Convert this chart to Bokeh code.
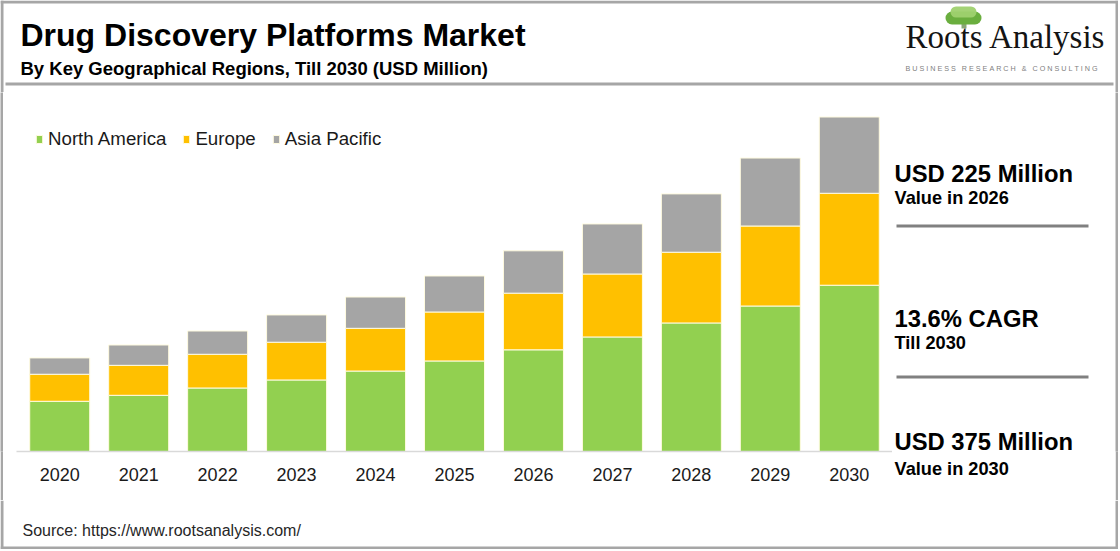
from bokeh.plotting import figure
from bokeh.models import Label, BoxAnnotation, ColumnDataSource, Range1d, FactorRange, Spacer, Title
from bokeh.layouts import column, row
from bokeh.embed import file_html
from bokeh.resources import INLINE

# ---- data (USD Million) ----
years = ["2020", "2021", "2022", "2023", "2024", "2025", "2026", "2027", "2028", "2029", "2030"]
north_america = [56.3, 63.0, 71.2, 80.2, 90.2, 101.5, 114.0, 128.4, 144.1, 163.1, 186.4]
europe = [30.3, 33.6, 37.8, 42.3, 47.9, 54.9, 63.5, 70.6, 79.3, 89.7, 103.1]
asia_pacific = [18.3, 22.8, 26.1, 30.6, 35.1, 40.4, 47.5, 56.1, 65.4, 76.2, 85.5]
series_names = ["North America", "Europe", "Asia Pacific"]
series_colors = ["#92d050", "#ffc000", "#a5a5a5"]

title_text = "Drug Discovery Platforms Market"
subtitle_text = "By Key Geographical Regions, Till 2030 (USD Million)"
source_text = "Source: https://www.rootsanalysis.com/"
cagr_text = "13.6% CAGR"
tagline_words = ["BUSINESS", "RESEARCH", "&", "CONSULTING"]

FONT = "Liberation Sans"
W, H = 1118, 549
HEAD_H = 92
MID_B = 500
MID_H = MID_B - HEAD_H
FRAME_H = 359
BOT_BORDER = MID_H - FRAME_H
LSTRIP, LSPACE = 3, 13
MAIN_W = 876
RSTRIP = 3
SIDE_X0 = LSTRIP + LSPACE + MAIN_W
SIDE_W = W - SIDE_X0 - RSTRIP
BORDER = "#a6a6a6"


def blank(w, x0, x1, y_top, y_bot, frame_bottom=None, fill="white"):
    h = y_bot - y_top
    fb = y_bot if frame_bottom is None else frame_bottom
    f = figure(width=w, height=h, x_range=Range1d(x0, x1),
               y_range=Range1d(-fb, -y_top),
               min_border_left=0, min_border_right=0, min_border_top=0,
               min_border_bottom=y_bot - fb,
               toolbar_location=None, tools="", output_backend="svg",
               x_axis_location=None, y_axis_location=None)
    f.outline_line_color = None
    f.grid.visible = False
    f.background_fill_color = fill
    f.border_fill_color = fill
    return f


def box(f, l, r, t, b, **kw):
    f.add_layout(BoxAnnotation(left=l, right=r, top=-t, bottom=-b, **kw))


def solid(f, l, r, t, b, color):
    box(f, l, r, t, b, fill_color=color, fill_alpha=1, line_color=None)


def text(f, x, baseline, s, size, bold=False, color="#000000", font=FONT):
    y_mid = baseline - 0.3465 * size
    f.add_layout(Label(x=x, y=-y_mid, text=s, text_font=font, text_font_size=f"{size}px",
                       text_font_style="bold" if bold else "normal",
                       text_color=color, text_baseline="middle", text_align="left"))


# ---------------- header ----------------
head = blank(W, 0, W, 0, HEAD_H)
solid(head, 0, W, 0, 3, BORDER)
solid(head, 0, 3, 0, HEAD_H, BORDER)
solid(head, W - 3, W, 0, HEAD_H, BORDER)
solid(head, 5, W - 5, 82, 85, BORDER)
text(head, 20, 45.5, title_text, 32, bold=True)
text(head, 20, 74, subtitle_text, 18.5, bold=True)
# logo tree (decorative)
box(head, 961, 966, 20, 28, fill_color="#6d8f52", fill_alpha=0.8, line_color=None)
box(head, 945, 981, 11, 24, fill_color="#6aae3e", fill_alpha=1, line_color=None, border_radius=7)
box(head, 950, 976, 6, 17, fill_color="#9fd16f", fill_alpha=0.95, line_color=None, border_radius=6)
text(head, 905, 48, "Roots Analysis", 33, color="#141414", font="Liberation Serif")
nb = "\u00a0"
tagline = (nb * 3).join(nb.join(wd) for wd in tagline_words)
text(head, 905, 70, tagline, 7.2, color="#808080")

# ---------------- left / right strips ----------------
lstrip = blank(LSTRIP, 0, LSTRIP, HEAD_H, MID_B, frame_bottom=HEAD_H + FRAME_H, fill=BORDER)
rstrip = blank(RSTRIP, 0, RSTRIP, HEAD_H, MID_B, frame_bottom=HEAD_H + FRAME_H, fill=BORDER)
lspace = Spacer(width=LSPACE, height=MID_H)

# ---------------- main chart ----------------
src = ColumnDataSource(dict(year=years, na=north_america, eu=europe, ap=asia_pacific))
p = figure(x_range=FactorRange(factors=years, range_padding=0.0475, range_padding_units="absolute"),
           y_range=Range1d(0, FRAME_H * 375 / 334.5),
           width=MAIN_W, height=MID_H,
           min_border_left=0, min_border_right=0, min_border_top=0,
           min_border_bottom=BOT_BORDER,
           output_backend="svg", toolbar_location=None, tools="", y_axis_location=None)
p.outline_line_color = None
p.grid.visible = False
p.background_fill_color = "white"
p.border_fill_color = "white"

p.vbar_stack(["na", "eu", "ap"], x="year", width=0.76, source=src,
             fill_color=series_colors, line_color="#fffbe0", line_width=1,
             legend_label=series_names)

ax = p.xaxis[0]
ax.axis_line_color = "#d9d9d9"
ax.axis_line_width = 1.5
ax.major_tick_line_color = None
ax.minor_tick_line_color = None
ax.major_tick_out = 0
ax.major_label_standoff = 16
ax.major_label_text_font = FONT
ax.major_label_text_font_size = "18px"
ax.major_label_text_color = "#1a1a1a"

lg = p.legend[0]
lg.orientation = "horizontal"
lg.location = (35 - LSTRIP - LSPACE, (HEAD_H + FRAME_H) - 150)
lg.padding = 0
lg.margin = 0
lg.spacing = 16
lg.glyph_width = 8
lg.glyph_height = 10
lg.label_standoff = 5
lg.label_height = 20
lg.label_text_font = FONT
lg.label_text_font_size = "18.7px"
lg.label_text_color = "#1a1a1a"
lg.border_line_color = None
lg.background_fill_alpha = 0

# ---------------- right panel ----------------
side = blank(SIDE_W, SIDE_X0, SIDE_X0 + SIDE_W, HEAD_H, MID_B, frame_bottom=HEAD_H + FRAME_H)
solid(side, 896, 1088, 224, 227, "#808080")
solid(side, 896, 1088, 375, 378, "#808080")
total_2026 = round(north_america[6] + europe[6] + asia_pacific[6])
total_2030 = round(north_america[10] + europe[10] + asia_pacific[10])
text(side, 894, 181, f"USD {total_2026} Million", 23.8, bold=True)
text(side, 894, 204, "Value in 2026", 18.2, bold=True)
text(side, 894, 326, cagr_text, 23.8, bold=True)
text(side, 894, 349, "Till 2030", 18.2, bold=True)
text(side, 894, 449, f"USD {total_2030} Million", 23.8, bold=True)
side.add_layout(Title(text="Value in 2030", align="left", offset=894 - SIDE_X0,
                      text_font=FONT, text_font_size="18.2px", text_font_style="bold",
                      text_color="#000000", standoff=10), "below")

# ---------------- footer ----------------
foot = blank(W, 0, W, MID_B, H)
solid(foot, 0, W, H - 3, H, BORDER)
solid(foot, 0, 3, MID_B, H, BORDER)
solid(foot, W - 3, W, MID_B, H, BORDER)
text(foot, 22, 536, source_text, 16, color="#262626")

root = column(head, row(lstrip, lspace, p, side, rstrip), foot)
open("out.html", "w").write(file_html(root, INLINE))
